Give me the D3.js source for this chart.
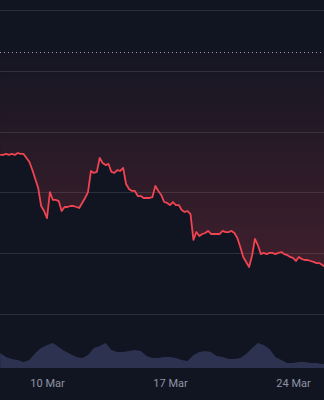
<!DOCTYPE html>
<html lang="en">
  <head>
    <meta charset="utf-8">
    <title>Price</title>
    <script src="https://cdn.jsdelivr.net/npm/d3@7"></script>
    <style>
      html, body { margin: 0; padding: 0; background: #111522; }
      svg { display: block; }
    </style>
  </head>
  <body>
    <div id="chart"></div>
    <script>

      // price, one point every 4 hours from 7 Mar 08:00 (UTC)
      var priceStart = Date.UTC(2024, 2, 7, 8);
      var priceStep = 4 * 3600 * 1000;
      var prices = [
        0.6808, 0.6808, 0.6816, 0.6808, 0.6816, 0.6808, 0.6824, 0.6816, 0.6816, 0.6783,
        0.6750, 0.6684, 0.6610, 0.6536, 0.6388, 0.6347, 0.6289, 0.6503, 0.6438, 0.6438,
        0.6429, 0.6347, 0.6380, 0.6380, 0.6388, 0.6388, 0.6380, 0.6372, 0.6413, 0.6454,
        0.6503, 0.6676, 0.6660, 0.6668, 0.6783, 0.6742, 0.6725, 0.6734, 0.6668, 0.6660,
        0.6684, 0.6676, 0.6701, 0.6569, 0.6528, 0.6512, 0.6512, 0.6470, 0.6470, 0.6454,
        0.6454, 0.6454, 0.6462, 0.6553, 0.6512, 0.6479, 0.6421, 0.6413, 0.6396, 0.6421,
        0.6396, 0.6396, 0.6355, 0.6339, 0.6347, 0.6322, 0.6109, 0.6174, 0.6141, 0.6158,
        0.6166, 0.6183, 0.6158, 0.6158, 0.6158, 0.6158, 0.6183, 0.6174, 0.6174, 0.6183,
        0.6166, 0.6125, 0.6051, 0.5969, 0.5928, 0.5887, 0.5977, 0.6117, 0.6067, 0.5993,
        0.6002, 0.5993, 0.6002, 0.6002, 0.5993, 0.6002, 0.6010, 0.5993, 0.5985, 0.5969,
        0.5961, 0.5936, 0.5969, 0.5952, 0.5944, 0.5944, 0.5936, 0.5928, 0.5919, 0.5919,
        0.5903, 0.5887];

      // volume (millions), one point every 8 hours from the same start
      var volStep = 8 * 3600 * 1000;
      var volumes = [
        7.5, 5.5, 4.5, 4, 3, 4, 7.5, 10, 11.5, 12.5,
        10.5, 8.5, 7, 5.5, 5, 6.5, 10, 11, 12.5, 9,
        8, 8, 8.5, 9, 8.5, 6, 5, 5, 5.5, 5.5,
        5, 4, 3.5, 6.5, 8, 8.5, 8, 6, 5.5, 4.5,
        4.5, 5, 7, 10, 12.5, 11.5, 9.5, 5.5, 4, 2.5,
        2.5, 3, 3, 2.5, 2.5, 2, 2];

      var baseline = 0.7655;
      var gridValues = [0.55, 0.60, 0.65, 0.70, 0.75, 0.80];
      var tickDates = [Date.UTC(2024, 2, 10), Date.UTC(2024, 2, 17), Date.UTC(2024, 2, 24)];
      var tickLabels = ["10 Mar", "17 Mar", "24 Mar"];

      var priceData = prices.map(function(v, i) { return {t: new Date(priceStart + i * priceStep), v: v}; });
      var volData = volumes.map(function(v, i) { return {t: new Date(priceStart + i * volStep), v: v}; });

      var width = 324;
      var height = 400;
      var paneBottom = 368;

      var svg = d3.select("#chart")
        .append("svg")
        .attr("width", width)
        .attr("height", height);

      svg.append("rect")
        .attr("width", width)
        .attr("height", height)
        .attr("fill", "#111522");

      var xScale = d3.scaleUtc()
        .domain([new Date(Date.UTC(2024, 2, 7, 7, 48)), new Date(Date.UTC(2024, 2, 25, 18, 20))])
        .range([0, width]);

      var yScale = d3.scaleLinear()
        .domain([0.55, 0.80])
        .range([314, 10]);

      var volScale = d3.scaleLinear()
        .domain([0, 25])
        .range([paneBottom, paneBottom - 50]);

      // horizontal grid
      svg.append("g")
        .selectAll("line")
        .data(gridValues)
        .enter()
        .append("line")
          .attr("x1", 0)
          .attr("x2", width)
          .attr("y1", function(d) { return Math.round(yScale(d)) + 0.5; })
          .attr("y2", function(d) { return Math.round(yScale(d)) + 0.5; })
          .attr("stroke", "#2b2f3b")
          .attr("stroke-width", 1);

      // volume
      var volArea = d3.area()
        .x(function(d) { return xScale(d.t); })
        .y0(paneBottom)
        .y1(function(d) { return volScale(d.v); });

      svg.append("path")
        .datum(volData)
        .attr("d", volArea)
        .attr("fill", "#2c3250");

      // baseline fill
      var defs = svg.append("defs");
      var grad = defs.append("linearGradient")
        .attr("id", "belowFill")
        .attr("gradientUnits", "userSpaceOnUse")
        .attr("x1", 0).attr("x2", 0)
        .attr("y1", yScale(baseline))
        .attr("y2", paneBottom);
      grad.append("stop").attr("offset", "0%").attr("stop-color", "#ef4452").attr("stop-opacity", 0.02);
      grad.append("stop").attr("offset", "100%").attr("stop-color", "#ef4452").attr("stop-opacity", 0.3);

      var fillArea = d3.area()
        .x(function(d) { return xScale(d.t); })
        .y0(yScale(baseline))
        .y1(function(d) { return yScale(d.v); });

      svg.append("path")
        .datum(priceData)
        .attr("d", fillArea)
        .attr("fill", "url(#belowFill)");

      // baseline marker
      svg.append("line")
        .attr("x1", 0)
        .attr("x2", width)
        .attr("y1", Math.round(yScale(baseline)) + 0.5)
        .attr("y2", Math.round(yScale(baseline)) + 0.5)
        .attr("stroke", "#9ba1b0")
        .attr("stroke-width", 1)
        .attr("stroke-dasharray", "1,3");

      var line = d3.line()
        .x(function(d) { return xScale(d.t); })
        .y(function(d) { return yScale(d.v); });

      svg.append("path")
        .datum(priceData)
        .attr("d", line)
        .attr("fill", "none")
        .attr("stroke", "#ef4452")
        .attr("stroke-width", 1.8)
        .attr("stroke-linejoin", "round");

      // time axis
      var xAxis = svg.append("g")
        .attr("transform", "translate(0," + 376 + ")")
        .call(d3.axisBottom(xScale)
          .tickValues(tickDates.map(function(d) { return new Date(d); }))
          .tickFormat(function(d, i) { return tickLabels[i]; })
          .tickSize(0));

      xAxis.select(".domain").remove();
      xAxis.selectAll("text")
        .attr("fill", "#8e94a3")
        .style("font-family", "Roboto, 'Liberation Sans', sans-serif")
        .style("font-size", "11px");

    </script>
  </body>
</html>
